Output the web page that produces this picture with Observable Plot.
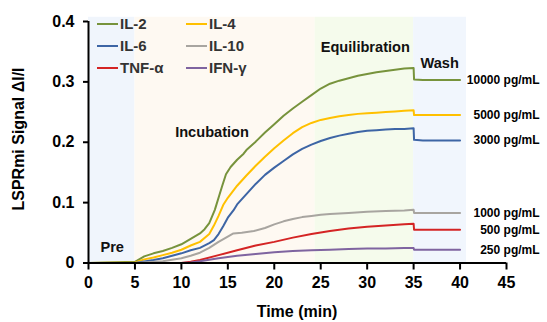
<!DOCTYPE html>
<html>
<head>
<meta charset="utf-8">
<script src="https://cdn.jsdelivr.net/npm/d3@7"></script>
<script src="https://cdn.jsdelivr.net/npm/@observablehq/plot@0.6"></script>
<style>
  html, body { margin: 0; padding: 0; background: #fff; }
  #chart svg { display: block; }
</style>
</head>
<body>
<div id="chart"></div>
<script>
// ---- data ----
const seriesNames = ["IL-2", "IL-4", "IL-6", "IL-10", "TNF-α", "IFN-γ"];
const seriesColors = ["#77933c", "#ffc000", "#3d65a5", "#a8a5a0", "#d42424", "#7f64a0"];
const concLabels = ["10000 pg/mL", "5000 pg/mL", "3000 pg/mL", "1000 pg/mL", "500 pg/mL", "250 pg/mL"];

const il2T = [0,5,6,7,8,9,10,11,12,12.5,13,13.6,14.1,14.4,14.8,15.3,16,16.7,17,18,19,20,21,22,23,24,25,26,27,28,29,30,31,32,33,34,35,35.05,36,38,40];
const il2V = [0,0.002,0.011,0.016,0.02,0.025,0.031,0.04,0.049,0.056,0.066,0.088,0.113,0.128,0.147,0.159,0.171,0.181,0.187,0.201,0.216,0.230,0.244,0.256,0.267,0.278,0.289,0.297,0.302,0.306,0.310,0.313,0.316,0.318,0.320,0.322,0.323,0.304,0.303,0.303,0.303];

const il4T = [0,5,6,7,8,9,10,11,12,13,13.5,14,14.5,15,16,17,18,19,20,21,22,23,24,25,26,27,28,29,30,31,32,33,34,35,35.05,36,38,40];
const il4V = [0,0.001,0.006,0.009,0.013,0.017,0.022,0.029,0.035,0.048,0.062,0.078,0.096,0.108,0.128,0.145,0.161,0.176,0.190,0.203,0.215,0.225,0.232,0.237,0.240,0.243,0.245,0.247,0.248,0.249,0.250,0.251,0.252,0.253,0.245,0.245,0.245,0.245];

const il6T = [0,5,7,8,9,10,11,12,13,13.5,14,14.5,15,15.6,16,17,18,19,20,21,22,23,24,25,26,27,28,29,30,31,32,33,34,35,35.05,36,38,40];
const il6V = [0,0,0.005,0.008,0.012,0.016,0.021,0.025,0.033,0.038,0.048,0.061,0.075,0.087,0.097,0.114,0.131,0.146,0.158,0.169,0.180,0.189,0.196,0.202,0.207,0.211,0.214,0.217,0.219,0.220,0.221,0.222,0.222,0.223,0.204,0.203,0.203,0.203];

const il10T = [0,5,8,10,11,12,13,14,14.9,15.6,16.5,17.8,19,20,21,22,23,24,25,26,28,30,32,34,35,35.05,36,38,40];
const il10V = [0,0,0.003,0.008,0.012,0.017,0.025,0.035,0.043,0.049,0.050,0.053,0.058,0.064,0.069,0.073,0.076,0.078,0.080,0.081,0.083,0.085,0.086,0.087,0.088,0.083,0.083,0.083,0.083];

const tnfT = [0,5,10,11,12,14,16,18,20,22,24,26,28,30,32,34,35,35.05,36,38,40];
const tnfV = [0,0,0,0.002,0.005,0.013,0.021,0.029,0.035,0.042,0.048,0.053,0.057,0.060,0.062,0.064,0.065,0.055,0.055,0.055,0.055];

const ifnT = [0,5,10,11,12,14,16,18,20,22,24,26,28,30,32,34,35,35.05,36,38,40];
const ifnV = [0,0,0,0.001,0.003,0.008,0.012,0.015,0.018,0.020,0.021,0.022,0.023,0.024,0.024,0.025,0.025,0.022,0.022,0.022,0.022];

const phaseNames = ["Pre", "Incubation", "Equilibration", "Wash"];
const phaseStart = [0, 5, 24.4, 35];
const phaseEnd = [5, 24.4, 35, 40.7];
const phaseFill = ["#f0f5fc", "#fef9f2", "#f5fbec", "#f1f6fd"];
const phaseLabelX = [2.55, 13.3, 29.8, 37.8];
const phaseLabelY = [0.026, 0.216, 0.357, 0.331];

const xTicks = [0, 5, 10, 15, 20, 25, 30, 35, 40, 45];
const yTicks = [0, 0.1, 0.2, 0.3, 0.4];

// ---- build tables ----
const allT = [il2T, il4T, il6T, il10T, tnfT, ifnT];
const allV = [il2V, il4V, il6V, il10V, tnfV, ifnV];
const points = [];
seriesNames.forEach((s, i) => allT[i].forEach((t, j) => points.push({series: s, t, v: allV[i][j]})));
const endLabels = seriesNames.map((s, i) => ({series: s, label: concLabels[i], t: allT[i][allT[i].length - 1], v: allV[i][allV[i].length - 1]}));
const phases = phaseNames.map((p, i) => ({name: p, x1: phaseStart[i], x2: phaseEnd[i], fill: phaseFill[i], lx: phaseLabelX[i], ly: phaseLabelY[i]}));

const FONT = "'Liberation Sans', Arial, Helvetica, sans-serif";

const plot = Plot.plot({
  width: 547,
  height: 322,
  marginLeft: 88,
  marginRight: 41,
  marginTop: 21,
  marginBottom: 59.5,
  style: {fontFamily: FONT, fontWeight: "bold", fontSize: "16px", color: "#000", background: "#fff", overflow: "visible"},
  x: {domain: [0, 45]},
  y: {domain: [0, 0.4]},
  color: {domain: seriesNames, range: seriesColors},
  marks: [
    phases.map(p => Plot.rect([p], {x1: "x1", x2: "x2", y1: 0, y2: 0.407, fill: p.fill})),
    Plot.line(points, {x: "t", y: "v", z: "series", stroke: "series", strokeWidth: 2, curve: "linear"}),
    Plot.text(phases, {x: "lx", y: "ly", text: "name", fontSize: 14.6, fontWeight: "bold", fill: "#111"}),
    Plot.text(endLabels, {x: "t", y: "v", text: "label", textAnchor: "end", dx: 79.5, fontSize: 12, fontWeight: "bold", fill: "#000"}),
    Plot.ruleY([0], {strokeWidth: 2, stroke: "#000"}),
    Plot.ruleX([0], {y1: 0, y2: 0.4, strokeWidth: 2, stroke: "#000"}),
    Plot.axisX({ticks: xTicks, tickSize: 7, tickPadding: 7, strokeWidth: 2, label: null, tickFormat: d => String(d)}),
    Plot.axisY({ticks: yTicks, tickSize: 5, tickPadding: 9, strokeWidth: 2, label: null, tickFormat: d => d === 0 ? "0" : d.toFixed(1)})
  ]
});

document.getElementById("chart").appendChild(plot);

// legend and axis titles
const svg = d3.select(plot);
const legendCols = [97, 186];
const legendRows = [24, 46, 68];
seriesNames.forEach((s, i) => {
  const col = i % 2, row = Math.floor(i / 2);
  const x0 = legendCols[col], y0 = legendRows[row];
  svg.append("line").attr("x1", x0).attr("x2", x0 + 21).attr("y1", y0).attr("y2", y0)
    .attr("stroke", seriesColors[i]).attr("stroke-width", 2);
  svg.append("text").attr("x", x0 + 23).attr("y", y0).attr("dy", "0.36em").attr("text-anchor", "start")
    .attr("font-size", 15).attr("font-weight", "bold").attr("fill", "#333").text(s);
});
svg.append("text").attr("x", 297).attr("y", 311).attr("dy", "0.35em").attr("text-anchor", "middle")
  .attr("font-size", 16).attr("font-weight", "bold").attr("fill", "#000").text("Time (min)");
svg.append("text").attr("transform", "translate(18.5,139) rotate(-90)").attr("dy", "0.35em").attr("text-anchor", "middle")
  .attr("font-size", 16).attr("font-weight", "bold").attr("fill", "#000").text("LSPRmi Signal ΔI/I");
</script>
</body>
</html>
